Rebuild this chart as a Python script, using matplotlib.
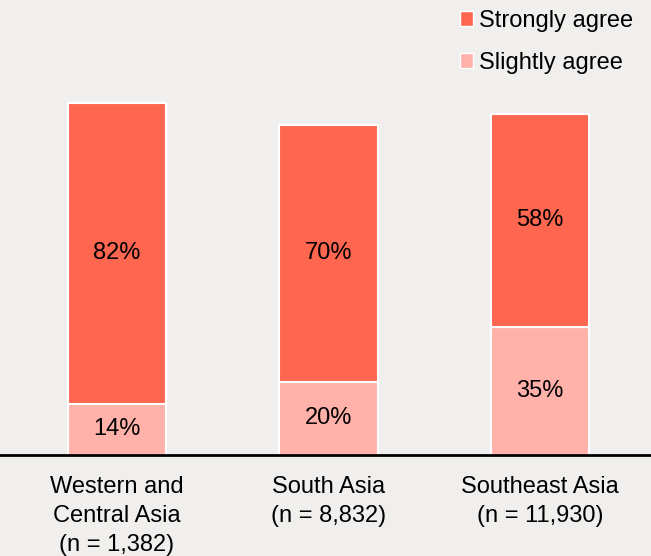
import numpy as np
import matplotlib.pyplot as plt
from matplotlib.patches import Patch

plt.rcParams['font.family'] = ['Liberation Sans', 'DejaVu Sans']

regions = ['Western and\nCentral Asia\n(n = 1,382)', 'South Asia\n(n = 8,832)', 'Southeast Asia\n(n = 11,930)']
slightly = [14, 20, 35]
strongly = [82, 70, 58]

bg = '#f0efed'
c_strong = '#ff6650'
c_slight = '#ffb1aa'

fig = plt.figure(figsize=(6.51, 5.56), dpi=100, facecolor=bg)
ax = fig.add_axes([0, 101/556, 1, 455/556], facecolor=bg)

x = np.arange(len(regions))
w = 0.465
ax.bar(x, slightly, w, color=c_slight, edgecolor='white', linewidth=1.5)
ax.bar(x, strongly, w, bottom=slightly, color=c_strong, edgecolor='white', linewidth=1.5)

for i in range(len(regions)):
    ax.text(x[i], slightly[i] / 2, f'{slightly[i]}%', ha='center', va='center', fontsize=17)
    ax.text(x[i], slightly[i] + strongly[i] / 2, f'{strongly[i]}%', ha='center', va='center', fontsize=17)
    ax.text(x[i], -5.6, regions[i], ha='center', va='top', fontsize=17, linespacing=1.42)

ax.set_xlim(-117/211.5, (651-117)/211.5)
ax.set_ylim(0, 455/3.667)
for s in ['top', 'right', 'left']:
    ax.spines[s].set_visible(False)
ax.spines['bottom'].set_linewidth(2)
ax.set_xticks([])
ax.set_yticks([])

handles = [Patch(facecolor=c_strong, edgecolor='white', label='Strongly agree'),
           Patch(facecolor=c_slight, edgecolor='white', label='Slightly agree')]
ax.legend(handles=handles, loc='upper right', bbox_to_anchor=(1.005, 1.025), frameon=False, fontsize=17,
          handlelength=0.55, handleheight=0.55, handletextpad=0.25, labelspacing=0.85)

fig.savefig('out.png', dpi=100, facecolor=bg)
